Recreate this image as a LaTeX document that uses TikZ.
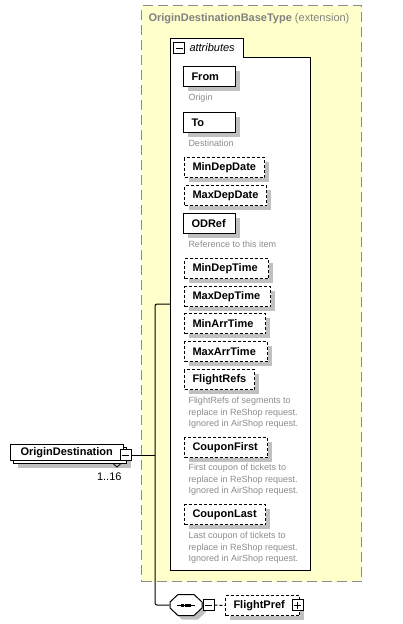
\documentclass[tikz,border=0pt]{standalone}
\usepackage{fontspec}
\setmainfont{Liberation Sans}
\usetikzlibrary{shadows}
\definecolor{ylw}{HTML}{FFFFCC}
\definecolor{ybord}{HTML}{8C8C8C}
\definecolor{ttl}{HTML}{808080}
\definecolor{desc}{HTML}{8C8C8C}
\definecolor{shdgray}{HTML}{C0C0C0}
\tikzset{
 shd/.style={drop shadow={shadow xshift=4pt, shadow yshift=-4pt, fill=shdgray, opacity=1}},
 elemns/.style={draw, fill=white, anchor=north west, minimum height=20pt, inner xsep=8pt, inner ysep=0pt, font=\bfseries\fontsize{11}{13}\selectfont, align=left},
 elem/.style={elemns, shd},
 opt/.style={elem, dash pattern=on 3pt off 2pt},
 descr/.style={anchor=north west, inner sep=0pt, text=desc, font=\fontsize{9}{11.5}\selectfont, align=left},
 pm/.style={draw, fill=white, minimum size=11pt, inner sep=0pt},
}
\begin{document}
\begin{tikzpicture}[x=1pt,y=-1pt,line width=1pt]
\useasboundingbox (0,0) rectangle (403,624);
% base type container
\node[draw=ybord, fill=ylw, dash pattern=on 10pt off 5pt, anchor=north west, minimum width=220pt, minimum height=576pt, inner sep=0pt] (base) at (141,5) {};
\node[anchor=west, inner sep=0pt, text=ttl, font=\fontsize{11}{13}\selectfont] (title) at (148,19) {\textbf{OriginDestinationBaseType} (extension)};
% attributes panel
\draw[fill=white] (170,38) -- (243,38) -- (243,57) -- (310,57) -- (310,570) -- (170,570) -- cycle;
\coordinate (attr) at (170,304);
\node[pm] (amin) at (179,48) {};
\draw ([xshift=2.5pt]amin.west) -- ([xshift=-2.5pt]amin.east);
\node[anchor=west, inner sep=0pt, font=\itshape\fontsize{11}{13}\selectfont] (atitle) at (189,48) {attributes};
% attributes
\node[elem, text width=36pt] (from) at (183,66) {From};
\node[descr] (dfrom) at (188,93.5) {Origin};
\node[elem, text width=36pt] (to) at (183,112) {To};
\node[descr] (dto) at (188,139.5) {Destination};
\node[opt, text width=64pt] (mindd) at (184,157) {MinDepDate};
\node[opt, text width=66pt] (maxdd) at (184,185) {MaxDepDate};
\node[elem, text width=36pt] (odref) at (183,213) {ODRef};
\node[descr] (dodref) at (188,240.5) {Reference to this item};
\node[opt, text width=68pt] (mindt) at (184,258) {MinDepTime};
\node[opt, text width=70pt] (maxdt) at (184,286) {MaxDepTime};
\node[opt, text width=65pt] (minat) at (184,313) {MinArrTime};
\node[opt, text width=67pt] (maxat) at (184,341) {MaxArrTime};
\node[opt, text width=54pt] (frefs) at (184,369) {FlightRefs};
\node[descr] (dfrefs) at (188,396.5) {FlightRefs of segments to\\replace in ReShop request.\\Ignored in AirShop request.};
\node[opt, text width=67pt] (cfirst) at (184,437) {CouponFirst};
\node[descr] (dcfirst) at (188,463.5) {First coupon of tickets to\\replace in ReShop request.\\Ignored in AirShop request.};
\node[opt, text width=65pt] (clast) at (184,504) {CouponLast};
\node[descr] (dclast) at (188,531.5) {Last coupon of tickets to\\replace in ReShop request.\\Ignored in AirShop request.};
% OriginDestination element (stacked)
\node[draw, fill=white, anchor=north west, minimum width=113pt, minimum height=16pt, inner sep=0pt, shd] (odback) at (13,447) {};
\node[elemns, minimum height=16pt, inner xsep=10pt, text width=93pt] (od) at (10,444) {OriginDestination};
\node[pm] (odm) at (125.5,455) {};
\draw ([xshift=2.5pt]odm.west) -- ([xshift=-2.5pt]odm.east);
\draw[line width=0.8pt] (113,463.5) -- (117,467) -- (121,463.5);
\node[anchor=east, inner sep=0pt, font=\fontsize{11}{13}\selectfont] (occ) at (122,477) {1..16};
% sequence compositor
\node[minimum width=32pt, minimum height=21pt, inner sep=0pt] (seq) at (186,605) {};
\fill[shdgray] (174,606) -- (182,598.5) -- (198,598.5) -- (206,606) -- (206,612) -- (198,619.5) -- (182,619.5) -- (174,612) -- cycle;
\draw[fill=white] (170,602) -- (178,594.5) -- (194,594.5) -- (202,602) -- (202,608) -- (194,615.5) -- (178,615.5) -- (170,608) -- cycle;
\draw (177,605) -- (195,605);
\fill (181,603.5) rectangle (184,606.5);
\fill (184.5,603.5) rectangle (187.5,606.5);
\fill (188,603.5) rectangle (191,606.5);
\node[pm] (sm) at (208.5,605) {};
\draw ([xshift=2.5pt]sm.west) -- ([xshift=-2.5pt]sm.east);
% FlightPref
\node[opt, text width=58pt] (fp) at (225,595) {FlightPref};
\node[pm] (fpp) at (297.5,605) {};
\draw ([xshift=2.5pt]fpp.west) -- ([xshift=-2.5pt]fpp.east) ([yshift=2.5pt]fpp.south) -- ([yshift=-2.5pt]fpp.north);
% connectors
\coordinate (vtop) at (155,304);
\coordinate (vbot) at (155,605);
\draw (odm.east) -- (odm.east -| vtop);
\draw[rounded corners=2pt] (attr) -- (vtop) -- (vbot) -- (seq.west);
\draw[dash pattern=on 3pt off 2pt] (sm.east) -- (fp.west);
\end{tikzpicture}
\end{document}
